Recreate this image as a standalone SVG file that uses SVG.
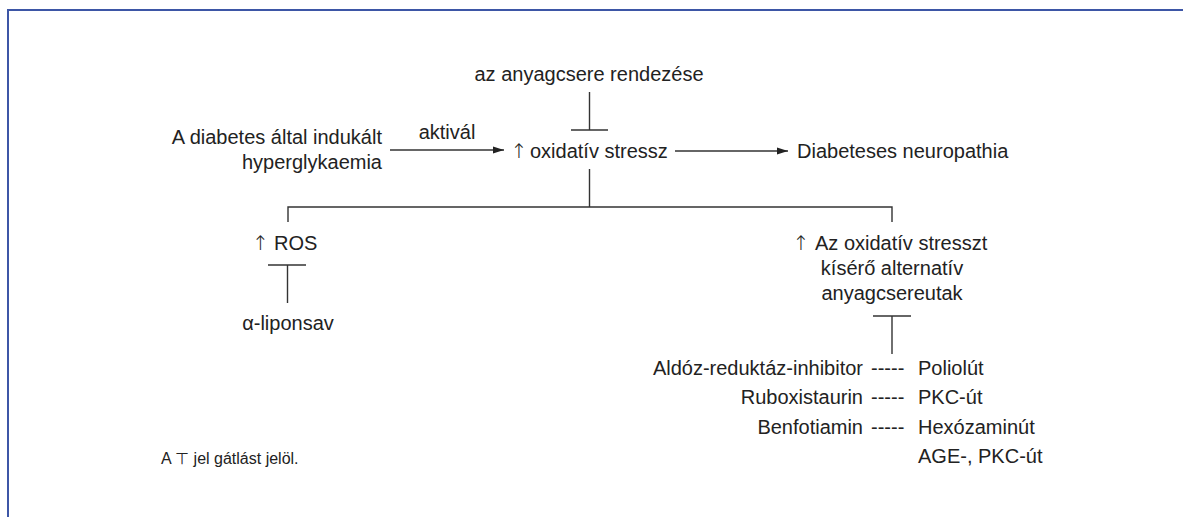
<svg xmlns="http://www.w3.org/2000/svg" width="1183" height="517" viewBox="0 0 1183 517">
  <defs>
    <style>
      .t { font-family: "Liberation Sans", "DejaVu Sans", sans-serif; font-size: 20px; fill: #222; }
      .s { font-size: 16px; }
      .e { text-anchor: end; }
      .m { text-anchor: middle; }
      .up { font-family: "DejaVu Sans", sans-serif; font-weight: 300; }
      .ln { stroke: #333; stroke-width: 1.4; fill: none; }
      .frame { stroke: #3d56a6; stroke-width: 2; fill: none; }
    </style>
    <marker id="arrow" markerUnits="userSpaceOnUse" markerWidth="12" markerHeight="8" refX="11" refY="4" orient="auto">
      <path d="M0,0.5 L11,4 L0,7.5 z" fill="#222"/>
    </marker>
  </defs>

  <rect width="1183" height="517" fill="#fff"/>
  <path class="frame" d="M8,517 V10 H1183"/>

  <!-- connectors -->
  <g id="connectors">
    <!-- activation arrow into oxidative stress -->
    <line class="ln" x1="390" y1="150" x2="504" y2="150" marker-end="url(#arrow)"/>
    <!-- oxidative stress leads to neuropathy -->
    <line class="ln" x1="675" y1="151" x2="788" y2="151" marker-end="url(#arrow)"/>
    <!-- inhibition by metabolic control -->
    <line class="ln" x1="589.5" y1="92" x2="589.5" y2="130"/>
    <line class="ln" x1="571" y1="130" x2="608" y2="130"/>
    <!-- branching tree below oxidative stress -->
    <path class="ln" d="M589.5,169 V207 M288,222 V207 H892 V222"/>
    <!-- inhibition of ROS by alpha-lipoic acid -->
    <line class="ln" x1="268" y1="265" x2="306" y2="265"/>
    <line class="ln" x1="287.5" y1="265" x2="287.5" y2="303"/>
    <!-- inhibition of alternative pathways -->
    <line class="ln" x1="873" y1="316" x2="911" y2="316"/>
    <line class="ln" x1="892" y1="316" x2="892" y2="354"/>
  </g>

  <g id="metabolic-control">
    <text class="t m" x="589" y="81">az anyagcsere rendezése</text>
  </g>

  <g id="hyperglycaemia">
    <text class="t e" x="382" y="144">A diabetes által indukált</text>
    <text class="t e" x="382" y="169">hyperglykaemia</text>
  </g>

  <g id="activation-label">
    <text class="t m" x="447" y="139">aktivál</text>
  </g>

  <g id="oxidative-stress">
    <text class="t up" x="510.6" y="158">↑</text>
    <text class="t" x="530" y="158">oxidatív stressz</text>
  </g>

  <g id="neuropathy">
    <text class="t" x="797" y="158">Diabeteses neuropathia</text>
  </g>

  <g id="ros">
    <text class="t up" x="252" y="250">↑</text>
    <text class="t" x="274" y="250">ROS</text>
  </g>

  <g id="lipoic-acid">
    <text class="t m" x="288" y="330">α-liponsav</text>
  </g>

  <g id="alternative-pathways">
    <text class="t up" x="792.6" y="250">↑</text>
    <text class="t" x="815" y="250">Az oxidatív stresszt</text>
    <text class="t m" x="892" y="275">kísérő alternatív</text>
    <text class="t m" x="892" y="300">anyagcsereutak</text>
  </g>

  <g id="inhibitors">
    <text class="t e" x="863" y="375">Aldóz-reduktáz-inhibitor</text>
    <text class="t e" x="863" y="404">Ruboxistaurin</text>
    <text class="t e" x="863" y="434">Benfotiamin</text>
    <text class="t" x="871" y="375">-----</text>
    <text class="t" x="871" y="404">-----</text>
    <text class="t" x="871" y="434">-----</text>
  </g>

  <g id="pathways">
    <text class="t" x="918" y="375">Poliolút</text>
    <text class="t" x="918" y="404">PKC-út</text>
    <text class="t" x="918" y="434">Hexózaminút</text>
    <text class="t" x="918" y="463">AGE-, PKC-út</text>
  </g>

  <g id="legend">
    <text class="t s" x="161" y="464">A ⊤ jel gátlást jelöl.</text>
  </g>
</svg>
